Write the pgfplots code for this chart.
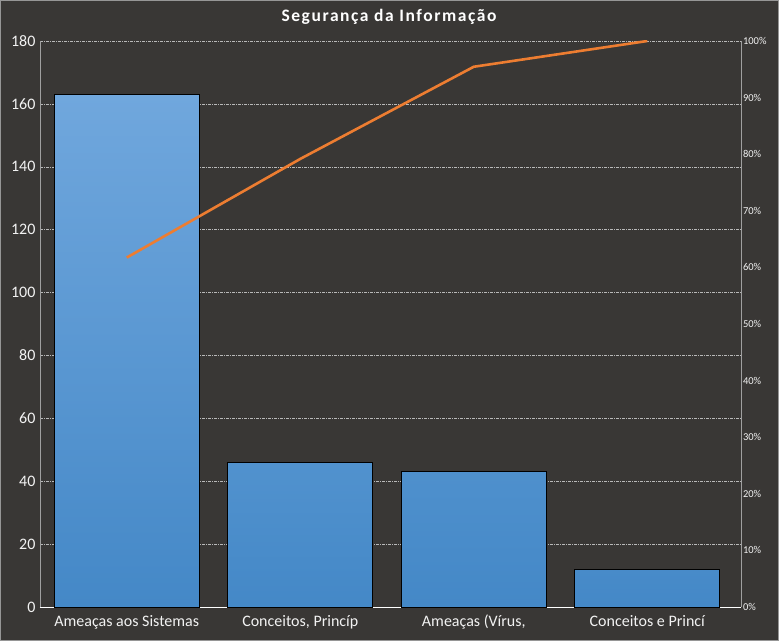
\documentclass[border=0pt]{standalone}
\usepackage{pgfplots}
\pgfplotsset{compat=1.18}
\usepackage{fontspec}
\setmainfont{Carlito}
\newfontfamily\titlefont[LetterSpace=9]{Carlito}
\definecolor{bg}{RGB}{57,55,53}
\definecolor{framec}{RGB}{150,150,150}
\definecolor{barlight}{RGB}{112,167,221}
\definecolor{barmid}{RGB}{81,146,206}
\definecolor{barlow}{RGB}{72,139,201}
\definecolor{bardark}{RGB}{68,136,199}
\definecolor{lineorange}{RGB}{237,125,49}
\definecolor{gridc}{RGB}{185,185,185}
\definecolor{axisgray}{RGB}{160,160,160}
\definecolor{ticktext}{RGB}{242,242,242}

\begin{document}
\begin{tikzpicture}[x=1pt,y=1pt]
\fill[bg] (-40,-34) rectangle (739,607);
\draw[framec, line width=1.2pt] (-39.4,-33.4) rectangle (738.4,606.4);

\node[font=\titlefont\bfseries\fontsize{17.5}{20}\selectfont, text=white] at (349,590) {Segurança da Informação};

\begin{axis}[
  scale only axis, width=701pt, height=566pt,
  at={(0,0)}, anchor=south west,
  xmin=-0.5, xmax=3.54, ymin=0, ymax=180,
  ytick={0,20,...,180},
  xtick={0,1,2,3},
  xticklabels={Ameaças aos Sistemas,{Conceitos, Princíp},{Ameaças (Vírus,},Conceitos e Princí},
  axis y line*=left, axis x line*=bottom,
  y axis line style={axisgray, line width=0.8pt, -},
  x axis line style={white, line width=1pt, -},
  major tick length=0pt,
  ymajorgrids,
  grid style={gridc, line width=0.5pt, dash pattern=on 3pt off 1pt on 1pt off 1pt},
  tick label style={font=\fontsize{16}{19}\selectfont, text=ticktext},
  yticklabel style={xshift=-1pt},
  xticklabel style={text height=11pt, text depth=3pt, yshift=-5pt},
  /pgf/number format/assume math mode=true,
  ybar, bar width=0.836, bar shift=0pt,
]
\addplot[draw=black, line width=1pt, top color=barlight, bottom color=bardark] coordinates {(0,163)};
\addplot[draw=black, line width=1pt, top color=barmid, bottom color=bardark] coordinates {(1,46)};
\addplot[draw=black, line width=1pt, top color=barmid!80!bardark, bottom color=bardark] coordinates {(2,43)};
\addplot[draw=black, line width=1pt, top color=barlow, bottom color=bardark] coordinates {(3,12)};
\end{axis}

\begin{axis}[
  scale only axis, width=701pt, height=566pt,
  at={(0,0)}, anchor=south west,
  xmin=-0.5, xmax=3.54, ymin=0, ymax=100,
  axis y line*=right, axis x line=none,
  y axis line style={axisgray, line width=0.8pt, -},
  ytick={0,10,...,100},
  yticklabel={\pgfmathprintnumber{\tick}\%},
  major tick length=0pt,
  tick label style={font=\fontsize{10.5}{12}\selectfont, text=ticktext},
  yticklabel style={xshift=-1.5pt},
  /pgf/number format/assume math mode=true,
]
\addplot[lineorange, line width=2.6pt, no marks] coordinates {(0,61.74)(1,79.17)(2,95.45)(3,100)};
\end{axis}
\end{tikzpicture}
\end{document}
